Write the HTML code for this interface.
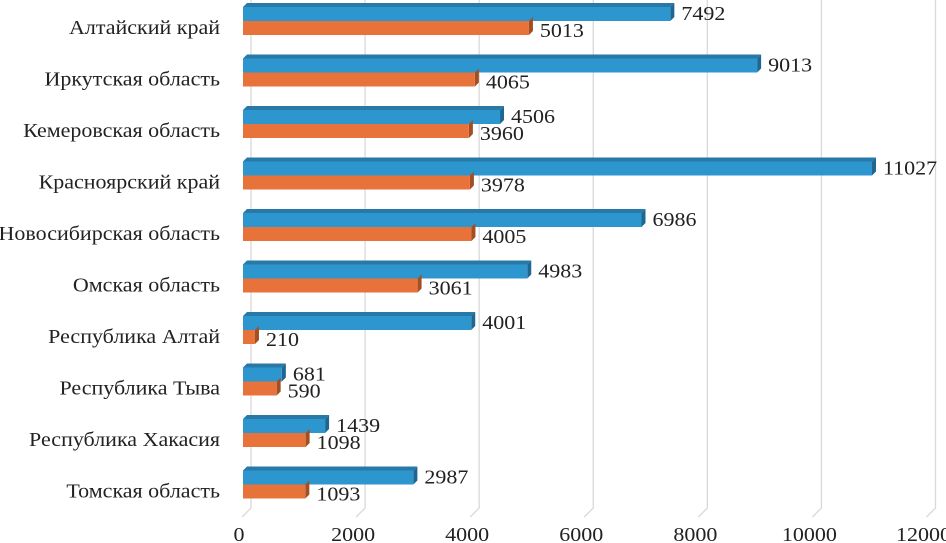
<!DOCTYPE html>
<html><head><meta charset="utf-8"><style>
body{margin:0;background:#fff}
svg{display:block;font-family:"Liberation Serif",serif}
</style></head><body>
<svg id="chart" width="946" height="543"></svg>
<script>
const categories=["Алтайский край","Иркутская область","Кемеровская область","Красноярский край","Новосибирская область","Омская область","Республика Алтай","Республика Тыва","Республика Хакасия","Томская область"];
const blueValues=[7492,9013,4506,11027,6986,4983,4001,681,1439,2987];
const orangeValues=[5013,4065,3960,3978,4005,3061,210,590,1098,1093];
const ticks=[0,2000,4000,6000,8000,10000,12000];
const svg=document.getElementById('chart');
const NS='http://www.w3.org/2000/svg';
const x0=243,scale=629/11027;
const xs=v=>x0+v*scale;
const rowC=i=>27+i*51.5;
const FS=20,STRETCH=1.1;
function mk(tag,attrs,parent){const e=document.createElementNS(NS,tag);for(const k in attrs)e.setAttribute(k,attrs[k]);(parent||svg).appendChild(e);return e;}
function stretch(t){const w=t.getComputedTextLength();t.setAttribute('textLength',w*STRETCH);t.setAttribute('lengthAdjust','spacingAndGlyphs');}
const grid=mk('g',{});


ticks.forEach(t=>{
  const gx=xs(t)+8;
  const l=mk('polyline',{points:`${gx},0 ${gx},508 ${gx-9},517`,fill:'none',stroke:'#d9d9d9','stroke-width':1.3},grid);
  
  
  const tx=mk('text',{x:xs(t)-4,y:541,'text-anchor':'middle','font-size':FS,fill:'#222'});
  tx.textContent=t;
  
  
  stretch(tx);
});
function bar(v,yTop,h,front,top,side,name,top3d){
  const g=mk('g',{});
  
  
  const w=xs(v)-x0;
  if(top3d) mk('polygon',{points:`${x0},${yTop} ${x0+4},${yTop-4} ${x0+w+4},${yTop-4} ${x0+w},${yTop}`,fill:top},g);
  mk('polygon',{points:`${x0+w},${yTop} ${x0+w+4},${yTop-4} ${x0+w+4},${yTop+h-4} ${x0+w},${yTop+h}`,fill:side},g);
  mk('rect',{x:x0,y:yTop,width:w,height:h,fill:front},g);
}
categories.forEach((c,i)=>{
  const cy=rowC(i);
  const lab=mk('text',{x:220,y:cy+7,'text-anchor':'end','font-size':FS,fill:'#222'});
  lab.textContent=c;
  
  
  stretch(lab);
  bar(blueValues[i],cy-20,14,'#2e96cf','#2779a8','#1f6690','bar-blue-'+i,true);
  bar(orangeValues[i],cy-6,14,'#e8733a','#c45e2b','#a34f24','bar-orange-'+i,false);
  const bt=mk('text',{x:xs(blueValues[i])+11,y:cy-7,'font-size':FS,fill:'#222'});
  bt.textContent=blueValues[i];
  
  
  stretch(bt);
  const ot=mk('text',{x:xs(orangeValues[i])+11,y:cy+10,'font-size':FS,fill:'#222'});
  ot.textContent=orangeValues[i];
  
  
  stretch(ot);
});
</script>
</body></html>
